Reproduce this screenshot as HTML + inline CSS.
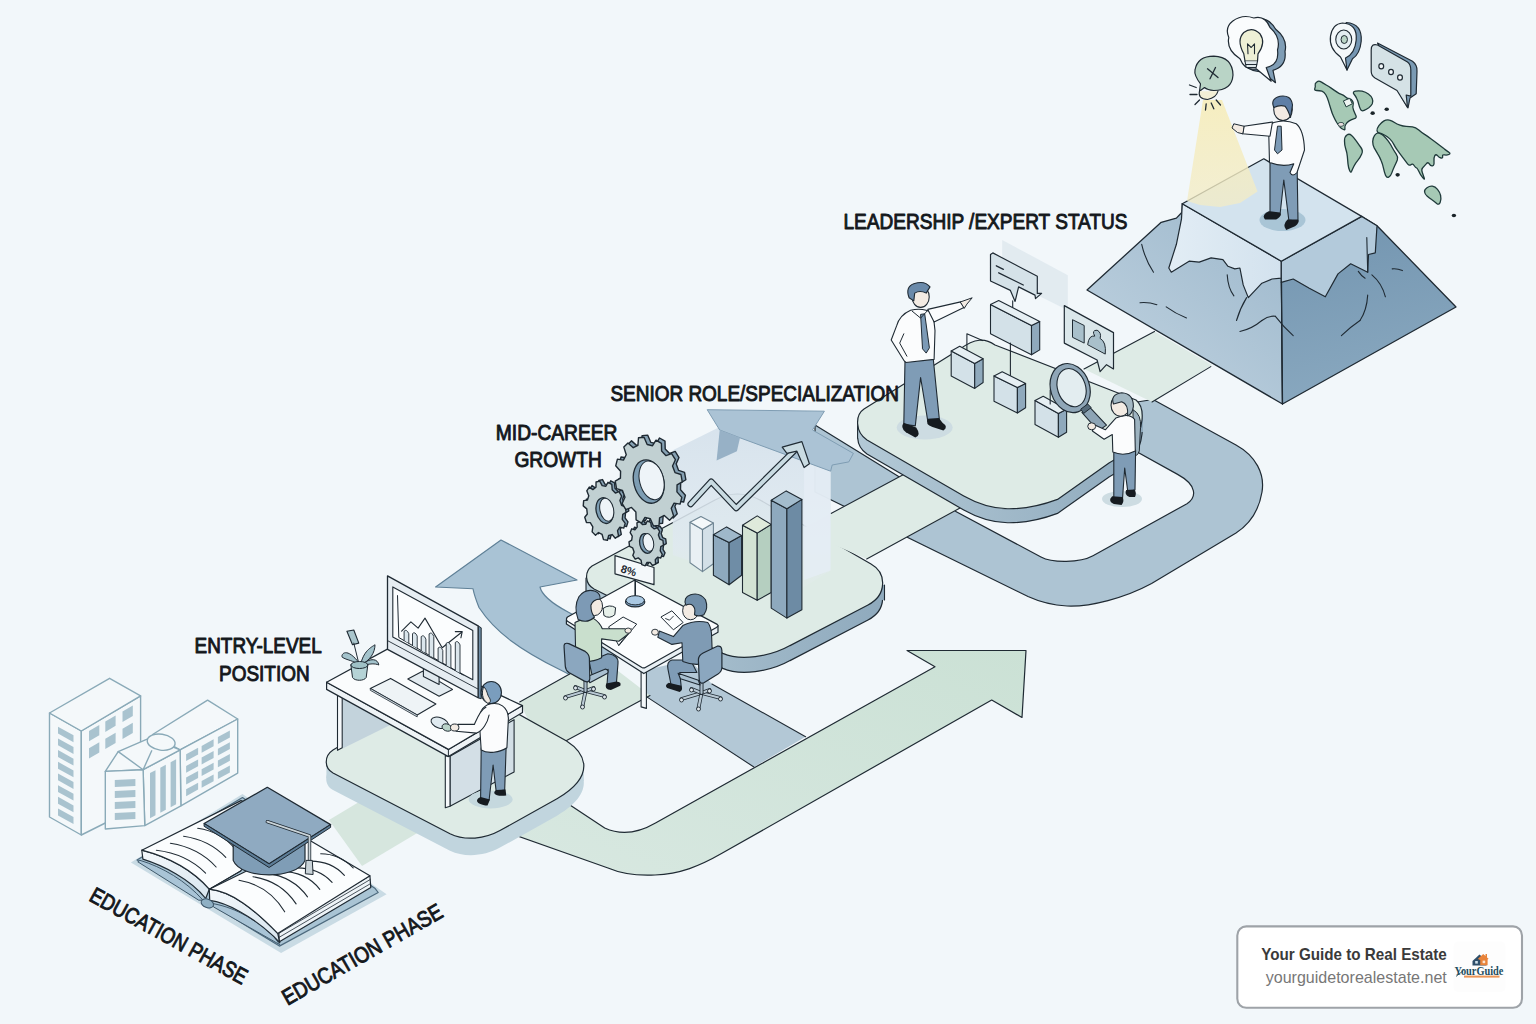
<!DOCTYPE html>
<html><head><meta charset="utf-8"><title>Career Path</title>
<style>
html,body{margin:0;padding:0;background:#f2f7fa;}
body{width:1536px;height:1024px;overflow:hidden;font-family:"Liberation Sans",sans-serif;}
svg{display:block;position:absolute;left:0;top:0;}
text{font-family:"Liberation Sans",sans-serif;}
</style></head><body>
<svg width="1536" height="1024" viewBox="0 0 1536 1024">
<defs>

<linearGradient id="gArrow" x1="0" y1="1" x2="1" y2="0">
  <stop offset="0" stop-color="#d8e8e1"/><stop offset="1" stop-color="#cbe1d5"/>
</linearGradient>
<linearGradient id="gMtL" x1="1" y1="0" x2="0.2" y2="1">
  <stop offset="0" stop-color="#9cb7cb"/><stop offset="1" stop-color="#bfd2e0"/>
</linearGradient>
<linearGradient id="gMtR" x1="0.3" y1="0" x2="0.5" y2="1">
  <stop offset="0" stop-color="#7395b0"/><stop offset="1" stop-color="#8aa9c0"/>
</linearGradient>
<linearGradient id="gSnowL" x1="0" y1="0" x2="1" y2="0">
  <stop offset="0" stop-color="#e2edf5"/><stop offset="1" stop-color="#d3e2ee"/>
</linearGradient>
<linearGradient id="gBeam" x1="0" y1="0" x2="0" y2="1">
  <stop offset="0" stop-color="#f6edbd" stop-opacity="0.95"/><stop offset="1" stop-color="#f3ecc6" stop-opacity="0.75"/>
</linearGradient>
<linearGradient id="gPage" x1="0" y1="0" x2="1" y2="1">
  <stop offset="0" stop-color="#f4f8fb"/><stop offset="1" stop-color="#d9e6ef"/>
</linearGradient>
<linearGradient id="gSlab" x1="0" y1="0" x2="0" y2="1">
  <stop offset="0" stop-color="#d6e2ec" stop-opacity="0.95"/><stop offset="0.7" stop-color="#dfe9f0" stop-opacity="0.85"/><stop offset="1" stop-color="#e3ece9" stop-opacity="0.3"/>
</linearGradient>
<linearGradient id="gSide" x1="0" y1="0" x2="1" y2="0">
  <stop offset="0" stop-color="#b3c9d6"/><stop offset="1" stop-color="#8faabd"/>
</linearGradient>

</defs>
<rect width="1536" height="1024" fill="#f2f7fa"/>
<path d="M1153,399.5 L1236,445 C1256,456 1265,474 1262,492 C1259,510 1250,524 1236,533 L1151.6,583.5 C1125,598 1090,607 1067,606 C1050,605 1040,602 1028,596.5 L815,492 L815,425 L953,510 L1041,557 C1052,563 1080,563 1093,555.8 L1187,503.7 C1197,497 1197,485 1177.6,474.4 L1130,448 L1137,402 Z" fill="#adc4d3" stroke="#1f2a33" stroke-width="1.2" stroke-linejoin="round" stroke-linecap="round" />
<path d="M501,540 L577,580 L540,587 C542,596 553,604 568,612 L620,640 L600,690 L560.6,670 C520,650 495,632 479,607.5 C476,600 474,594 473,588.75 L435.6,587 Z" fill="#a9c3d5" stroke="#5f8097" stroke-width="1.2" stroke-linejoin="round" stroke-linecap="round" />
<polygon points="646.4,696.6 753.9,767.0 805.6,736.7 711.9,684.0 690.0,660.0 645.0,670.0" fill="#b3c8d6" stroke="none" stroke-linejoin="round" />
<path d="M646.4,696.6 L753.9,767 M711.9,684 L805.6,736.7" fill="none" stroke="#1f2a33" stroke-width="1.1" stroke-linejoin="round" stroke-linecap="round" />
<polygon points="329.0,820.0 364.0,799.0 424.0,829.0 362.0,866.0" fill="#d6e6de" stroke="none" stroke-linejoin="round" />
<polygon points="519.7,701.9 600.0,657.0 650.0,695.6 566.6,740.5 540.0,745.0" fill="#d6e6de" stroke="none" stroke-linejoin="round" />
<path d="M519.7,701.9 L600,657 M566.6,740.5 L650,695.6" fill="none" stroke="#1f2a33" stroke-width="1.1" stroke-linejoin="round" stroke-linecap="round" />
<path d="M559,797.8 L604.7,828 C622,836 640,832 655.5,823 L935,666.7 L907,650.5 L1026,650.5 L1022,717.5 L991.7,700 L721.5,853.6 C700,866 680,874 655,875 C635,876 622,874 608,868 L503,830.8 Z" fill="url(#gArrow)" stroke="#1f2a33" stroke-width="1.2" stroke-linejoin="round" stroke-linecap="round" />
<polygon points="1084.0,369.0 1154.5,331.4 1212.0,365.0 1152.0,402.0" fill="#deebe6" stroke="none" stroke-linejoin="round" />
<path d="M1084,369 L1154.5,331.4 M1152,402 L1210.8,366.6" fill="none" stroke="#1f2a33" stroke-width="1.1" stroke-linejoin="round" stroke-linecap="round" />
<path d="M333,750 C324,756 324,768 333,773 L450,833.75 C465,841 485,839 500,830.6 L557,798.75 C572,790 585,778 583.75,764 C582.5,754 576,747 566.6,741 L470,687 C460,681 450,681 440,687 Z" fill="#c1d5de" transform="translate(0,17)"/>
<path d="M326.4,761 L326.4,778 L583.8,781 L583.8,764 Z" fill="#c1d5de" stroke="none" stroke-linejoin="round" stroke-linecap="round" />
<path d="M333,750 C324,756 324,768 333,773 L450,833.75 C465,841 485,839 500,830.6 L557,798.75 C572,790 585,778 583.75,764 C582.5,754 576,747 566.6,741 L470,687 C460,681 450,681 440,687 Z" fill="#deebe6" stroke="#1f2a33" stroke-width="1.2" stroke-linejoin="round" stroke-linecap="round" />
<path d="M592,566 C584,572 585,584 594,589 L722.8,653.4 C740,661 770,657 790,645.6 L868,605 C887,595 887,573 871,564 L760,500 C745,492 730,492 715,500 Z" fill="url(#gSide)" stroke="#1f2a33" stroke-width="1.2" transform="translate(0,15)"/>
<path d="M586,578 L586,593 L884.5,600 L884.5,585 Z" fill="url(#gSide)" stroke="none" stroke-linejoin="round" stroke-linecap="round" />
<path d="M586,578 L586,593 M884.5,585 L884.5,600" fill="none" stroke="#1f2a33" stroke-width="1.1" stroke-linejoin="round" stroke-linecap="round" />
<path d="M592,566 C584,572 585,584 594,589 L722.8,653.4 C740,661 770,657 790,645.6 L868,605 C887,595 887,573 871,564 L760,500 C745,492 730,492 715,500 Z" fill="#deebe6" stroke="#1f2a33" stroke-width="1.2" stroke-linejoin="round" stroke-linecap="round" />
<polygon points="800.0,530.0 940.0,455.0 985.0,495.0 866.7,559.0" fill="#deebe6" stroke="none" stroke-linejoin="round" />
<path d="M831,513.5 L905,473.7 M866.7,559 L960,508" fill="none" stroke="#1f2a33" stroke-width="1.1" stroke-linejoin="round" stroke-linecap="round" />
<polygon points="672.8,450.3 719.7,426.9 830.6,470.6 830.6,570.6 790.0,595.6 672.8,555.0" fill="url(#gSlab)" stroke="none" stroke-linejoin="round" />
<polygon points="804.1,459.7 830.6,470.6 830.6,570.6 804.1,580.0" fill="#e6eef5" stroke="none" stroke-linejoin="round" opacity="0.75"/>
<polygon points="707.2,409.7 824.4,411.2 812.5,430.0 853.4,453.4 848.8,461.9 832.2,465.0 830.6,471.2 740.0,437.8 719.7,430.0" fill="#abc3d5" stroke="#7f9db3" stroke-width="1" stroke-linejoin="round" />
<polygon points="719.7,430.0 740.0,437.8 736.9,451.2 716.6,460.6" fill="#97b1c6" stroke="none" stroke-linejoin="round" />
<path d="M864,409 C855,415 855,432 867,440 L963.75,496 C978,504 992,508.5 1007.5,508.75 C1024,509 1040,506 1057.5,499.4 L1109,463 C1128,453 1140,440 1142,420 C1143,410 1141,404 1136,400 L995,345 C985,338 975,338 960,349 Z" fill="url(#gSide)" stroke="#1f2a33" stroke-width="1.2" transform="translate(0,14)"/>
<path d="M857.5,424 L857.5,438 L1143,432 L1143,418 Z" fill="url(#gSide)" stroke="none" stroke-linejoin="round" stroke-linecap="round" />
<path d="M857.6,424 L857.6,438" fill="none" stroke="#1f2a33" stroke-width="1.1" stroke-linejoin="round" stroke-linecap="round" />
<path d="M864,409 C855,415 855,432 867,440 L963.75,496 C978,504 992,508.5 1007.5,508.75 C1024,509 1040,506 1057.5,499.4 L1109,463 C1128,453 1140,440 1142,420 C1143,410 1141,404 1136,400 L995,345 C985,338 975,338 960,349 Z" fill="#deebe6" stroke="#1f2a33" stroke-width="1.2" stroke-linejoin="round" stroke-linecap="round" />
<polygon points="1087.0,290.0 1161.2,222.3 1176.4,218.1 1182.0,212.2 1182.3,203.7 1281.3,261.2 1282.5,404.0" fill="url(#gMtL)" stroke="#1f2a33" stroke-width="1.3" stroke-linejoin="round" />
<polygon points="1282.5,404.0 1456.0,307.0 1377.0,225.7 1361.7,216.4 1281.3,261.2" fill="url(#gMtR)" stroke="#1f2a33" stroke-width="1.3" stroke-linejoin="round" />
<polygon points="1182.3,203.7 1181.5,218.9 1176.4,244.3 1168.8,268.0 1171.3,272.2 1189.1,261.2 1199.2,262.1 1211.1,257.9 1222.9,259.6 1228.0,266.3 1234.8,268.9 1239.9,268.0 1243.2,284.9 1248.3,297.6 1261.9,283.2 1272.0,279.0 1281.3,278.2 1281.3,261.2" fill="url(#gSnowL)" stroke="#1f2a33" stroke-width="1.2" stroke-linejoin="round" />
<polygon points="1281.3,261.2 1281.3,282.4 1293.2,279.0 1309.3,288.3 1325.3,296.8 1338.0,273.9 1350.7,263.8 1367.7,272.2 1368.5,254.5 1375.3,252.8 1377.0,225.7 1361.7,216.4" fill="#b3cadb" stroke="#1f2a33" stroke-width="1.2" stroke-linejoin="round" />
<polygon points="1182.3,203.7 1263.8,158.8 1361.7,216.4 1281.3,261.2" fill="#d3e3ee" stroke="#1f2a33" stroke-width="1.3" stroke-linejoin="round" />
<polygon points="1203.0,100.0 1222.0,100.0 1257.5,191.6 1240.0,203.0 1220.0,207.0 1200.0,205.0 1187.0,201.0" fill="url(#gBeam)" stroke="none" stroke-linejoin="round" />
<g><polygon points="49.5,713.0 81.3,731.0 81.3,835.0 49.5,817.0" fill="#f4f8fa" stroke="#8aaab8" stroke-width="1.4" stroke-linejoin="round" /><polygon points="81.3,731.0 140.6,695.8 140.6,790.3 105.3,823.0 81.3,835.0" fill="#f4f8fa" stroke="#8aaab8" stroke-width="1.4" stroke-linejoin="round" /><polygon points="49.5,713.0 109.6,678.3 140.6,695.8 81.3,731.0" fill="#f4f8fa" stroke="#8aaab8" stroke-width="1.4" stroke-linejoin="round" /><polygon points="58.0,726.7 73.5,735.3 73.5,742.2 58.0,733.6" fill="#a9c3cf" stroke="none" stroke-linejoin="round" /><polygon points="58.0,738.4 73.5,747.0 73.5,753.9 58.0,745.3" fill="#a9c3cf" stroke="none" stroke-linejoin="round" /><polygon points="58.0,750.1 73.5,758.7 73.5,765.6 58.0,757.0" fill="#a9c3cf" stroke="none" stroke-linejoin="round" /><polygon points="58.0,761.8 73.5,770.4 73.5,777.3 58.0,768.7" fill="#a9c3cf" stroke="none" stroke-linejoin="round" /><polygon points="58.0,773.5 73.5,782.1 73.5,788.9 58.0,780.3" fill="#a9c3cf" stroke="none" stroke-linejoin="round" /><polygon points="58.0,785.2 73.5,793.8 73.5,800.6 58.0,792.0" fill="#a9c3cf" stroke="none" stroke-linejoin="round" /><polygon points="58.0,796.8 73.5,805.4 73.5,812.3 58.0,803.7" fill="#a9c3cf" stroke="none" stroke-linejoin="round" /><polygon points="58.0,808.5 73.5,817.1 73.5,824.0 58.0,815.4" fill="#a9c3cf" stroke="none" stroke-linejoin="round" /><polygon points="89.0,731.0 99.3,725.0 99.3,735.3 89.0,741.3" fill="#a9c3cf" stroke="none" stroke-linejoin="round" /><polygon points="89.0,748.2 99.3,742.2 99.3,752.5 89.0,758.5" fill="#a9c3cf" stroke="none" stroke-linejoin="round" /><polygon points="105.3,721.5 115.6,715.5 115.6,725.8 105.3,731.9" fill="#a9c3cf" stroke="none" stroke-linejoin="round" /><polygon points="105.3,738.7 115.6,732.7 115.6,743.0 105.3,749.0" fill="#a9c3cf" stroke="none" stroke-linejoin="round" /><polygon points="122.5,711.6 132.8,705.6 132.8,715.9 122.5,721.9" fill="#a9c3cf" stroke="none" stroke-linejoin="round" /><polygon points="122.5,728.8 132.8,722.8 132.8,733.1 122.5,739.1" fill="#a9c3cf" stroke="none" stroke-linejoin="round" /><polygon points="152.6,734.5 207.6,700.1 237.7,719.0 180.1,749.9" fill="#f4f8fa" stroke="#8aaab8" stroke-width="1.4" stroke-linejoin="round" /><polygon points="180.1,749.9 237.7,719.0 237.7,773.1 180.9,805.8" fill="#f4f8fa" stroke="#8aaab8" stroke-width="1.4" stroke-linejoin="round" /><polygon points="186.1,754.2 198.1,747.7 198.1,754.6 186.1,761.1" fill="#a9c3cf" stroke="none" stroke-linejoin="round" /><polygon points="186.1,765.9 198.1,759.4 198.1,766.3 186.1,772.8" fill="#a9c3cf" stroke="none" stroke-linejoin="round" /><polygon points="186.1,777.6 198.1,771.1 198.1,777.9 186.1,784.5" fill="#a9c3cf" stroke="none" stroke-linejoin="round" /><polygon points="186.1,789.3 198.1,782.8 198.1,789.6 186.1,796.2" fill="#a9c3cf" stroke="none" stroke-linejoin="round" /><polygon points="201.6,745.9 213.6,739.3 213.6,746.2 201.6,752.7" fill="#a9c3cf" stroke="none" stroke-linejoin="round" /><polygon points="201.6,757.6 213.6,751.0 213.6,757.9 201.6,764.4" fill="#a9c3cf" stroke="none" stroke-linejoin="round" /><polygon points="201.6,769.2 213.6,762.7 213.6,769.6 201.6,776.1" fill="#a9c3cf" stroke="none" stroke-linejoin="round" /><polygon points="201.6,780.9 213.6,774.4 213.6,781.3 201.6,787.8" fill="#a9c3cf" stroke="none" stroke-linejoin="round" /><polygon points="217.9,737.1 229.9,730.5 229.9,737.4 217.9,743.9" fill="#a9c3cf" stroke="none" stroke-linejoin="round" /><polygon points="217.9,748.7 229.9,742.2 229.9,749.1 217.9,755.6" fill="#a9c3cf" stroke="none" stroke-linejoin="round" /><polygon points="217.9,760.4 229.9,753.9 229.9,760.8 217.9,767.3" fill="#a9c3cf" stroke="none" stroke-linejoin="round" /><polygon points="217.9,772.1 229.9,765.6 229.9,772.5 217.9,779.0" fill="#a9c3cf" stroke="none" stroke-linejoin="round" /><polygon points="143.1,769.7 180.1,749.9 180.9,805.8 144.8,825.6" fill="#f4f8fa" stroke="#8aaab8" stroke-width="1.4" stroke-linejoin="round" /><polygon points="150.0,773.1 155.5,770.2 155.5,815.2 150.0,818.2" fill="#a9c3cf" stroke="none" stroke-linejoin="round" /><polygon points="160.3,767.7 165.8,764.7 165.8,809.8 160.3,812.7" fill="#a9c3cf" stroke="none" stroke-linejoin="round" /><polygon points="170.6,762.2 176.1,759.3 176.1,804.3 170.6,807.2" fill="#a9c3cf" stroke="none" stroke-linejoin="round" /><polygon points="105.3,771.4 118.2,751.6 150.0,737.9 180.1,749.9 143.1,769.7" fill="#f4f8fa" stroke="#8aaab8" stroke-width="1.4" stroke-linejoin="round" /><path d="M118.2,751.6 L143.1,769.7 L151.7,750.8" fill="none" stroke="#8aaab8" stroke-width="1.4" stroke-linejoin="round" stroke-linecap="round" /><ellipse cx="161.17566173942936" cy="742.1897559298728" rx="14" ry="8" fill="#f4f8fa" stroke="#8aaab8" stroke-width="1.4" transform="rotate(8 161.17566173942936 742.1897559298728)" /><polygon points="105.3,771.4 143.1,769.7 144.8,825.6 105.3,829.0" fill="#f4f8fa" stroke="#8aaab8" stroke-width="1.4" stroke-linejoin="round" /><polygon points="114.8,780.0 135.4,779.1 135.4,786.0 114.8,786.9" fill="#a9c3cf" stroke="none" stroke-linejoin="round" /><polygon points="114.8,791.0 135.4,790.1 135.4,797.0 114.8,797.9" fill="#a9c3cf" stroke="none" stroke-linejoin="round" /><polygon points="114.8,802.0 135.4,801.1 135.4,808.0 114.8,808.9" fill="#a9c3cf" stroke="none" stroke-linejoin="round" /><polygon points="114.8,813.0 135.4,812.1 135.4,819.0 114.8,819.9" fill="#a9c3cf" stroke="none" stroke-linejoin="round" /></g>
<g><polygon points="130.9,862.6 281.1,953.1 386.6,894.2 242.5,794.1" fill="#c9dbe4" stroke="none" stroke-linejoin="round" /><path d="M137.0,860.0 L 202.1,899.5 Q 205.6,906.5 212.6,905.1 L 279.4,946.1 L 378.2,892.5 L 375.2,888.6 L 242.5,797.6 Z" fill="#a9c4d4" stroke="#4d6a7e" stroke-width="1.2" stroke-linejoin="round" stroke-linecap="round" /><path d="M140.2,860.4 C 162.2,866.9 185.9,880.8 203.0,900.2 L 198.7,900.2 L 138.1,862.0 Z" fill="#a9c4d6" stroke="#3f596b" stroke-width="1" stroke-linejoin="round" stroke-linecap="round" /><path d="M211.6,903.4 C 232.0,906.6 253.5,917.3 273.9,936.7 L 279.8,944.7 L 213.8,907.1 Z" fill="#a9c4d6" stroke="#3f596b" stroke-width="1" stroke-linejoin="round" stroke-linecap="round" /><path d="M141.8,850.2 L 142.9,859.1 C 162.2,865.2 190.2,878.7 205.7,898.5 L 209.3,889.2 C 194.4,872.2 173.0,858.3 141.8,850.2 Z" fill="url(#gPage)" stroke="#1f2a33" stroke-width="1.2" stroke-linejoin="round" stroke-linecap="round" /><path d="M141.8,850.2 C 173.0,858.3 194.4,872.2 209.3,889.2 L 240.6,871.1 L 280.4,818.5 L 241.0,800.6 Z" fill="#fbfdfe" stroke="#1f2a33" stroke-width="1.2" stroke-linejoin="round" stroke-linecap="round" /><path d="M209.3,889.2 L 209.7,900.4 C 226.7,902.3 253.5,917.3 273.4,936.1 L 279.8,942.6 L 277.7,933.4 C 253.5,908.7 232.0,891.6 209.3,889.2 Z" fill="url(#gPage)" stroke="#1f2a33" stroke-width="1.2" stroke-linejoin="round" stroke-linecap="round" /><path d="M279.4,941.7 L 370.8,887.6 L 369.9,875.8 L 278.5,929.4 Z" fill="#eef4f8" stroke="#1f2a33" stroke-width="1.2" stroke-linejoin="round" stroke-linecap="round" /><path d="M279.0,933.3 L 370.1,879.6 M 279.2,937.3 L 370.4,883.7" fill="none" stroke="#1f2a33" stroke-width="0.8" stroke-linejoin="round" stroke-linecap="round" /><path d="M209.3,889.2 C 232.0,891.6 253.5,908.7 277.7,933.4 L369.9,875.8 L 305.7,838.0 L 263.6,862.6 Z" fill="#fbfdfe" stroke="#1f2a33" stroke-width="1.2" stroke-linejoin="round" stroke-linecap="round" /><path d="M209.3,889.2 L 240.6,871.1" fill="none" stroke="#1f2a33" stroke-width="1" stroke-linejoin="round" stroke-linecap="round" /><ellipse cx="207.33619763694952" cy="903.3727175080559" rx="6.4" ry="4.2" fill="#8fb0c4" stroke="#3a5366" stroke-width="1" transform="rotate(20 207.33619763694952 903.3727175080559)" /><path d="M170.4,843.3 Q 198.5,847.7 216.1,867.0" fill="none" stroke="#1f2a33" stroke-width="1.1" stroke-linejoin="round" stroke-linecap="round" /><path d="M183.6,836.2 Q 209.1,839.8 225.8,857.3" fill="none" stroke="#1f2a33" stroke-width="1.1" stroke-linejoin="round" stroke-linecap="round" /><path d="M197.7,828.3 Q 221.4,831.8 235.4,849.4" fill="none" stroke="#1f2a33" stroke-width="1.1" stroke-linejoin="round" stroke-linecap="round" /><path d="M156.4,850.3 Q 186.2,853.8 205.6,873.1" fill="none" stroke="#1f2a33" stroke-width="1.1" stroke-linejoin="round" stroke-linecap="round" /><path d="M239.0,880.2 Q 268.8,885.4 284.7,911.8" fill="none" stroke="#1f2a33" stroke-width="1.1" stroke-linejoin="round" stroke-linecap="round" /><path d="M253.0,876.7 Q 281.1,881.1 296.1,903.9" fill="none" stroke="#1f2a33" stroke-width="1.1" stroke-linejoin="round" stroke-linecap="round" /><path d="M266.2,873.1 Q 293.4,876.7 307.5,896.9" fill="none" stroke="#1f2a33" stroke-width="1.1" stroke-linejoin="round" stroke-linecap="round" /><path d="M280.3,871.4 Q 305.7,871.4 319.8,889.3" fill="none" stroke="#1f2a33" stroke-width="1.1" stroke-linejoin="round" stroke-linecap="round" /><path d="M294.3,867.9 Q 318.0,867.0 332.1,882.3" fill="none" stroke="#1f2a33" stroke-width="1.1" stroke-linejoin="round" stroke-linecap="round" /><path d="M307.5,861.2 Q 330.4,860.0 344.4,875.3" fill="none" stroke="#1f2a33" stroke-width="1.1" stroke-linejoin="round" stroke-linecap="round" /><path d="M320.7,853.8 Q 339.1,853.8 353.2,867.9" fill="none" stroke="#1f2a33" stroke-width="1.1" stroke-linejoin="round" stroke-linecap="round" /></g>
<g><path d="M233.2,842.8 L233.2,860.4 C241.0,879.8 297.2,879.8 305.0,860.4 L305.0,842.8 Z" fill="#7f9db6" stroke="#1f2a33" stroke-width="1.2" stroke-linejoin="round" stroke-linecap="round" /><polygon points="204.1,823.5 267.3,787.3 330.6,824.6 269.1,863.9" fill="#8faac1" stroke="#1f2a33" stroke-width="1.3" stroke-linejoin="round" /><polygon points="204.1,823.5 269.1,863.9 330.6,824.6 330.6,827.4 269.1,867.5 204.1,826.3" fill="#5d7d97" stroke="#1f2a33" stroke-width="1" stroke-linejoin="round" /><path d="M267.3,821.7 L309.5,835.8 L309.5,867.5" fill="none" stroke="#1f2a33" stroke-width="3.4" stroke-linejoin="round" stroke-linecap="round" /><path d="M267.3,821.7 L309.5,835.8 L309.5,867.5" fill="none" stroke="#c9d3d8" stroke-width="1.8" stroke-linejoin="round" stroke-linecap="round" /><polygon points="306.0,860.4 312.3,860.4 313.1,874.5 305.3,873.8" fill="#c9d3d8" stroke="#1f2a33" stroke-width="1" stroke-linejoin="round" /></g>
<g><polygon points="342.2,696.2 391.2,724.4 342.2,748.8" fill="#c3d3dc" stroke="none" stroke-linejoin="round" /><polygon points="450.0,756.2 514.1,719.7 514.1,771.9 450.0,806.2" fill="#d3dfe6" stroke="#1f2a33" stroke-width="1.1" stroke-linejoin="round" /><polygon points="337.5,693.1 342.2,695.6 342.2,747.8 337.5,750.3" fill="#f6f9fb" stroke="#1f2a33" stroke-width="1.1" stroke-linejoin="round" /><polygon points="445.3,755.6 450.0,756.2 450.0,806.2 445.3,807.8" fill="#f6f9fb" stroke="#1f2a33" stroke-width="1.1" stroke-linejoin="round" /><polygon points="326.6,682.2 448.4,749.4 522.5,705.6 522.5,712.5 448.4,756.6 326.6,689.4" fill="#eef3f6" stroke="#1f2a33" stroke-width="1.2" stroke-linejoin="round" /><polygon points="326.6,682.2 393.8,645.6 522.5,705.6 448.4,749.4" fill="#fafcfd" stroke="#1f2a33" stroke-width="1.2" stroke-linejoin="round" /><path d="M448.4,749.4 L448.4,756.6" fill="none" stroke="#1f2a33" stroke-width="1" stroke-linejoin="round" stroke-linecap="round" /><path d="M359.4,663.4 C346.9,646.2 340.6,654.1 342.2,657.2 C346.9,660.3 353.1,660.3 359.4,665.0 Z" fill="#a3c3cc" stroke="#1f2a33" stroke-width="1" stroke-linejoin="round" stroke-linecap="round" /><path d="M360.9,663.4 C364.1,649.4 373.4,646.2 375.0,644.7 C375.0,652.5 370.3,660.3 360.9,665.0 Z" fill="#a3c3cc" stroke="#1f2a33" stroke-width="1" stroke-linejoin="round" stroke-linecap="round" /><path d="M362.5,664.4 C370.3,657.2 378.1,658.8 378.8,665.0 C375.0,663.4 370.3,663.4 362.5,665.6 Z" fill="#a3c3cc" stroke="#1f2a33" stroke-width="1" stroke-linejoin="round" stroke-linecap="round" /><polygon points="346.9,631.2 353.8,630.0 358.8,643.1 352.5,644.7" fill="#a9c5cc" stroke="#1f2a33" stroke-width="1.1" stroke-linejoin="round" /><path d="M353.8,643.1 L358.8,663.4" fill="none" stroke="#1f2a33" stroke-width="1" stroke-linejoin="round" stroke-linecap="round" /><path d="M350.9,665.0 L352.5,677.5 C354.7,681.2 364.1,681.2 366.2,677.5 L367.8,665.0 Z" fill="#b5d3d6" stroke="#1f2a33" stroke-width="1" stroke-linejoin="round" stroke-linecap="round" /><ellipse cx="359.375" cy="665.0" rx="8.5" ry="3.5" fill="#9fc1c6" stroke="#1f2a33" stroke-width="1"  /><polygon points="370.3,688.4 390.6,678.4 435.9,704.1 417.2,715.0" fill="#eef3f6" stroke="#1f2a33" stroke-width="1.1" stroke-linejoin="round" /><polygon points="370.3,688.4 417.2,715.0 417.2,716.9 370.3,690.3" fill="#d5e0e6" stroke="#1f2a33" stroke-width="0.8" stroke-linejoin="round" /><polygon points="407.8,679.1 422.5,671.2 452.5,689.4 439.1,696.2" fill="#e3ebf0" stroke="#1f2a33" stroke-width="1.1" stroke-linejoin="round" /><polygon points="423.4,663.4 439.1,671.2 439.1,684.4 423.4,676.6" fill="#dfe8ee" stroke="#1f2a33" stroke-width="1.1" stroke-linejoin="round" /><polygon points="478.1,625.9 481.2,627.8 481.2,698.8 478.1,697.8" fill="#6f8da6" stroke="#1f2a33" stroke-width="1" stroke-linejoin="round" /><polygon points="387.5,575.9 478.1,625.9 478.1,697.8 387.5,649.4" fill="#e6edf2" stroke="#1f2a33" stroke-width="1.3" stroke-linejoin="round" /><polygon points="392.8,586.9 472.8,630.6 472.8,679.7 392.8,636.9" fill="#fbfdfe" stroke="#1f2a33" stroke-width="1.1" stroke-linejoin="round" /><path d="M387.5,640.6 L478.1,689.1" fill="none" stroke="#1f2a33" stroke-width="0.9" stroke-linejoin="round" stroke-linecap="round" /><path d="M397.5,595.6 L398.8,637.5 L463.1,675.0" fill="none" stroke="#1f2a33" stroke-width="1" stroke-linejoin="round" stroke-linecap="round" /><path d="M401.6,631.2 L410.9,621.9 L418.1,628.1 L425.0,618.1 L442.2,647.8 L461.6,632.2" fill="none" stroke="#1f2a33" stroke-width="1.1" stroke-linejoin="round" stroke-linecap="round" /><path d="M455.3,631.6 L462.2,631.6 L460.9,637.8" fill="none" stroke="#1f2a33" stroke-width="1.1" stroke-linejoin="round" stroke-linecap="round" /><path d="M404.1,640.6 L404.1,631.2 Q406.6,628.7 408.8,633.7 L408.8,643.1" fill="#dbe6ec" stroke="#1f2a33" stroke-width="0.9" stroke-linejoin="round" stroke-linecap="round" /><path d="M412.5,645.5 L412.5,633.6 Q415.0,631.1 417.2,636.1 L417.2,648.0" fill="#dbe6ec" stroke="#1f2a33" stroke-width="0.9" stroke-linejoin="round" stroke-linecap="round" /><path d="M421.2,650.6 L421.2,636.6 Q423.8,634.1 425.9,639.1 L425.9,653.1" fill="#dbe6ec" stroke="#1f2a33" stroke-width="0.9" stroke-linejoin="round" stroke-linecap="round" /><path d="M429.1,655.2 L429.1,633.9 Q431.6,631.4 433.8,636.4 L433.8,657.7" fill="#dbe6ec" stroke="#1f2a33" stroke-width="0.9" stroke-linejoin="round" stroke-linecap="round" /><path d="M438.1,660.5 L438.1,648.0 Q440.6,645.5 442.8,650.5 L442.8,663.0" fill="#dbe6ec" stroke="#1f2a33" stroke-width="0.9" stroke-linejoin="round" stroke-linecap="round" /><path d="M446.2,665.2 L446.2,643.3 Q448.8,640.8 450.9,645.8 L450.9,667.7" fill="#dbe6ec" stroke="#1f2a33" stroke-width="0.9" stroke-linejoin="round" stroke-linecap="round" /><path d="M455.3,670.5 L455.3,642.4 Q457.8,639.9 460.0,644.9 L460.0,673.0" fill="#dbe6ec" stroke="#1f2a33" stroke-width="0.9" stroke-linejoin="round" stroke-linecap="round" /><ellipse cx="439.6875" cy="722.8125" rx="9" ry="5.2" fill="#dfeaf0" stroke="#1f2a33" stroke-width="1" transform="rotate(20 439.6875 722.8125)" /><ellipse cx="446.875" cy="727.5" rx="5" ry="3.5" fill="#b9d3c9" stroke="#1f2a33" stroke-width="0.9" transform="rotate(20 446.875 727.5)" /></g>
<g><ellipse cx="490.625" cy="799.375" rx="22" ry="9" fill="#c5d8de" stroke="none"  /><path d="M481.2,747.8 L480.6,799.4 L489.1,800.0 L493.1,765.0 L496.2,791.6 L504.7,790.0 L506.2,744.7 Z" fill="#7f9cb6" stroke="#1f2a33" stroke-width="1.1" stroke-linejoin="round" stroke-linecap="round" /><path d="M480.6,796.9 C475.0,799.4 475.0,804.1 487.5,805.6 L490.0,799.4 Z" fill="#161b20" stroke="none" stroke-linejoin="round" stroke-linecap="round" /><path d="M496.2,790.0 C492.2,792.5 493.8,796.9 506.2,795.6 L505.6,789.4 Z" fill="#161b20" stroke="none" stroke-linejoin="round" stroke-linecap="round" /><path d="M487.5,704.7 C500.0,700.9 507.8,707.2 508.4,718.1 L506.9,747.8 C500.0,752.5 487.5,754.1 481.2,750.0 L479.7,727.5 C478.1,718.1 479.7,708.8 487.5,704.7 Z" fill="#fbfcfd" stroke="#1f2a33" stroke-width="1.1" stroke-linejoin="round" stroke-linecap="round" /><path d="M485.9,707.2 C479.7,710.3 476.6,719.7 474.4,724.4 L457.8,724.4 L456.2,731.2 L476.6,733.1 C482.8,730.6 487.5,722.8 489.1,715.0" fill="#fbfcfd" stroke="#1f2a33" stroke-width="1.1" stroke-linejoin="round" stroke-linecap="round" /><ellipse cx="454.6875" cy="727.5" rx="4.2" ry="3.5" fill="#f3ebe3" stroke="#1f2a33" stroke-width="1"  /><ellipse cx="491.25" cy="692.5" rx="10.2" ry="11" fill="#7a9dbd" stroke="#1f2a33" stroke-width="1.1"  /><path d="M483.8,686.9 C481.2,691.6 481.9,699.4 487.5,703.1 C490.6,703.1 491.2,700.9 489.4,697.8 C486.9,694.7 487.5,690.0 483.8,686.9 Z" fill="#f3ebe3" stroke="#1f2a33" stroke-width="1" stroke-linejoin="round" stroke-linecap="round" /></g>
<g><path d="M585.5,691.0 L565.5,697.0" fill="none" stroke="#1f2a33" stroke-width="3.8" stroke-linejoin="round" stroke-linecap="round" /><path d="M585.5,691.0 L565.5,697.0" fill="none" stroke="#b9c9d4" stroke-width="2.2" stroke-linejoin="round" stroke-linecap="round" /><ellipse cx="565.5" cy="698" rx="2" ry="2" fill="#dfe7ec" stroke="#1f2a33" stroke-width="0.9"  /><path d="M585.5,691.0 L582.5,706.0" fill="none" stroke="#1f2a33" stroke-width="3.8" stroke-linejoin="round" stroke-linecap="round" /><path d="M585.5,691.0 L582.5,706.0" fill="none" stroke="#b9c9d4" stroke-width="2.2" stroke-linejoin="round" stroke-linecap="round" /><ellipse cx="582.5" cy="707" rx="2" ry="2" fill="#dfe7ec" stroke="#1f2a33" stroke-width="0.9"  /><path d="M585.5,691.0 L604.5,696.0" fill="none" stroke="#1f2a33" stroke-width="3.8" stroke-linejoin="round" stroke-linecap="round" /><path d="M585.5,691.0 L604.5,696.0" fill="none" stroke="#b9c9d4" stroke-width="2.2" stroke-linejoin="round" stroke-linecap="round" /><ellipse cx="604.5" cy="697" rx="2" ry="2" fill="#dfe7ec" stroke="#1f2a33" stroke-width="0.9"  /><path d="M585.5,691.0 L593.5,688.0" fill="none" stroke="#1f2a33" stroke-width="3.8" stroke-linejoin="round" stroke-linecap="round" /><path d="M585.5,691.0 L593.5,688.0" fill="none" stroke="#b9c9d4" stroke-width="2.2" stroke-linejoin="round" stroke-linecap="round" /><ellipse cx="593.5" cy="689" rx="2" ry="2" fill="#dfe7ec" stroke="#1f2a33" stroke-width="0.9"  /><path d="M585.5,691.0 L575.5,687.0" fill="none" stroke="#1f2a33" stroke-width="3.8" stroke-linejoin="round" stroke-linecap="round" /><path d="M585.5,691.0 L575.5,687.0" fill="none" stroke="#b9c9d4" stroke-width="2.2" stroke-linejoin="round" stroke-linecap="round" /><ellipse cx="575.5" cy="688" rx="2" ry="2" fill="#dfe7ec" stroke="#1f2a33" stroke-width="0.9"  /><path d="M585.5,677.0 L585.5,691.0" fill="none" stroke="#1f2a33" stroke-width="4" stroke-linejoin="round" stroke-linecap="round" /><path d="M585.5,677.0 L585.5,691.0" fill="none" stroke="#aabdca" stroke-width="2.2" stroke-linejoin="round" stroke-linecap="round" /><path d="M701.5,693.0 L681.5,699.0" fill="none" stroke="#1f2a33" stroke-width="3.8" stroke-linejoin="round" stroke-linecap="round" /><path d="M701.5,693.0 L681.5,699.0" fill="none" stroke="#b9c9d4" stroke-width="2.2" stroke-linejoin="round" stroke-linecap="round" /><ellipse cx="681.5" cy="700" rx="2" ry="2" fill="#dfe7ec" stroke="#1f2a33" stroke-width="0.9"  /><path d="M701.5,693.0 L698.5,708.0" fill="none" stroke="#1f2a33" stroke-width="3.8" stroke-linejoin="round" stroke-linecap="round" /><path d="M701.5,693.0 L698.5,708.0" fill="none" stroke="#b9c9d4" stroke-width="2.2" stroke-linejoin="round" stroke-linecap="round" /><ellipse cx="698.5" cy="709" rx="2" ry="2" fill="#dfe7ec" stroke="#1f2a33" stroke-width="0.9"  /><path d="M701.5,693.0 L720.5,698.0" fill="none" stroke="#1f2a33" stroke-width="3.8" stroke-linejoin="round" stroke-linecap="round" /><path d="M701.5,693.0 L720.5,698.0" fill="none" stroke="#b9c9d4" stroke-width="2.2" stroke-linejoin="round" stroke-linecap="round" /><ellipse cx="720.5" cy="699" rx="2" ry="2" fill="#dfe7ec" stroke="#1f2a33" stroke-width="0.9"  /><path d="M701.5,693.0 L709.5,690.0" fill="none" stroke="#1f2a33" stroke-width="3.8" stroke-linejoin="round" stroke-linecap="round" /><path d="M701.5,693.0 L709.5,690.0" fill="none" stroke="#b9c9d4" stroke-width="2.2" stroke-linejoin="round" stroke-linecap="round" /><ellipse cx="709.5" cy="691" rx="2" ry="2" fill="#dfe7ec" stroke="#1f2a33" stroke-width="0.9"  /><path d="M701.5,693.0 L691.5,689.0" fill="none" stroke="#1f2a33" stroke-width="3.8" stroke-linejoin="round" stroke-linecap="round" /><path d="M701.5,693.0 L691.5,689.0" fill="none" stroke="#b9c9d4" stroke-width="2.2" stroke-linejoin="round" stroke-linecap="round" /><ellipse cx="691.5" cy="690" rx="2" ry="2" fill="#dfe7ec" stroke="#1f2a33" stroke-width="0.9"  /><path d="M701.5,679.0 L701.5,693.0" fill="none" stroke="#1f2a33" stroke-width="4" stroke-linejoin="round" stroke-linecap="round" /><path d="M701.5,679.0 L701.5,693.0" fill="none" stroke="#aabdca" stroke-width="2.2" stroke-linejoin="round" stroke-linecap="round" /><polygon points="641.1,671.7 646.4,671.7 646.4,708.4 641.1,706.9" fill="#f4f8fa" stroke="#1f2a33" stroke-width="1.1" stroke-linejoin="round" /><path d="M566.4,620.2 L 566.4,624.1 L 643.8,673.6 L 718.0,632.2 L 718.0,625.6 Z" fill="#e9f0f4" stroke="#1f2a33" stroke-width="1.2" stroke-linejoin="round" stroke-linecap="round" /><path d="M567.5,617.0 L 634.4,580.3 L 717.2,624.4 Q 719.1,625.9 716.4,627.5 L 645.3,667.5 Q 643.8,668.4 641.9,667.5 L 567.5,621.2 Q 565.3,619.4 567.5,617.0 Z" fill="#fbfdfe" stroke="#1f2a33" stroke-width="1.2" stroke-linejoin="round" stroke-linecap="round" /><path d="M635.2,578.8 L635.2,599.8" fill="none" stroke="#1f2a33" stroke-width="1.6" stroke-linejoin="round" stroke-linecap="round" /><ellipse cx="635.15625" cy="601.875" rx="9.7" ry="5" fill="#7fa3c4" stroke="#1f2a33" stroke-width="1.1"  /><ellipse cx="635.15625" cy="600.3125" rx="9.2" ry="4.6" fill="#a9c8e2" stroke="#1f2a33" stroke-width="1"  /><polygon points="615.0,555.6 654.0,567.5 654.0,584.7 615.0,573.8" fill="#f4f8fa" stroke="#1f2a33" stroke-width="1.2" stroke-linejoin="round" /><text x="620" y="572" font-size="11" font-weight="bold" fill="#1f2a33" transform="rotate(17 620 572)">8%</text><polygon points="608.6,626.9 623.1,617.0 636.7,624.1 618.8,645.6" fill="#fbfdfe" stroke="#1f2a33" stroke-width="1" stroke-linejoin="round" /><path d="M618.8,645.2 L 631.2,628.8" fill="none" stroke="#1f2a33" stroke-width="1" stroke-linejoin="round" stroke-linecap="round" /><path d="M603.1,608.4 L 603.9,615.5 Q 609.4,619.4 614.8,614.7 L 615.6,607.7 Q 609.4,603.8 603.1,608.4 Z" fill="#e6f0ea" stroke="#1f2a33" stroke-width="1" stroke-linejoin="round" stroke-linecap="round" /><polygon points="660.9,617.0 671.9,610.8 683.1,622.5 673.4,629.8" fill="#fbfdfe" stroke="#1f2a33" stroke-width="1" stroke-linejoin="round" /><path d="M665.6,618.6 L 669.5,620.2 L 673.4,616.2" fill="none" stroke="#1f2a33" stroke-width="0.9" stroke-linejoin="round" stroke-linecap="round" /><path d="M589.1,661.6 L 607.8,653.8 Q 618.8,655.3 618.0,663.1 L 616.4,683.4 L 607.0,685.0 L 608.1,669.4 L 592.2,675.6 Z" fill="#7f9cb6" stroke="#1f2a33" stroke-width="1.1" stroke-linejoin="round" stroke-linecap="round" /><path d="M606.2,683.4 Q 603.9,689.7 610.9,690.0 L 620.3,685.8 Q 621.9,681.9 616.4,681.6 Z" fill="#161b20" stroke="none" stroke-linejoin="round" stroke-linecap="round" /><path d="M575.0,622.5 Q 583.6,617.8 593.0,618.1 Q 600.0,622.5 602.3,628.8 L 625.0,628.8 L 628.9,633.4 L 618.8,641.2 L 601.6,638.9 L 601.6,657.7 Q 589.1,663.9 575.8,660.0 Z" fill="#c9dfcd" stroke="#1f2a33" stroke-width="1.1" stroke-linejoin="round" stroke-linecap="round" /><ellipse cx="628.125" cy="630.625" rx="3.2" ry="2.6" fill="#f3ebe3" stroke="#1f2a33" stroke-width="0.9"  /><ellipse cx="594.53125" cy="606.09375" rx="8" ry="9.5" fill="#f3ebe3" stroke="#1f2a33" stroke-width="1"  /><path d="M578.1,619.4 Q 573.4,606.9 578.9,596.7 Q 585.2,588.1 595.3,591.2 Q 600.8,593.6 600.0,599.1 Q 593.0,599.1 590.9,605.3 Q 590.9,613.1 594.5,617.0 Q 587.5,624.1 578.1,619.4 Z" fill="#7d9ab5" stroke="#1f2a33" stroke-width="1.1" stroke-linejoin="round" stroke-linecap="round" /><path d="M587.5,676.4 L 605.5,669.1 Q 609.4,670.2 607.5,673.3 L 589.8,682.7 Z" fill="#a9c0d0" stroke="#1f2a33" stroke-width="1.1" stroke-linejoin="round" stroke-linecap="round" /><path d="M564.1,647.5 Q 563.3,642.0 568.8,643.6 L 585.2,651.4 Q 589.1,653.8 589.4,658.4 L 589.8,678.8 Q 589.1,683.4 584.4,681.1 L 568.8,672.5 Q 565.6,670.2 565.3,666.2 Z" fill="#8ba7bf" stroke="#1f2a33" stroke-width="1.2" stroke-linejoin="round" stroke-linecap="round" /><path d="M690.6,660.0 L 671.9,660.0 Q 666.4,661.6 668.0,669.4 L 671.1,685.0 L 681.2,686.6 L 679.7,672.5 L 696.9,672.5 Z" fill="#7f9cb6" stroke="#1f2a33" stroke-width="1.1" stroke-linejoin="round" stroke-linecap="round" /><path d="M668.8,682.7 Q 664.1,685.0 667.2,688.1 L 679.7,692.0 Q 683.6,689.7 681.2,685.8 Z" fill="#161b20" stroke="none" stroke-linejoin="round" stroke-linecap="round" /><path d="M682.8,625.6 Q 695.3,619.4 707.8,622.5 Q 711.7,627.2 711.7,638.1 L 712.5,660.0 Q 698.4,667.8 682.8,661.6 L 682.0,642.8 L 671.9,644.4 L 657.8,637.3 L 659.4,631.1 L 673.4,636.6 Z" fill="#7f9bb4" stroke="#1f2a33" stroke-width="1.1" stroke-linejoin="round" stroke-linecap="round" /><ellipse cx="655.0" cy="632.1875" rx="3.4" ry="3" fill="#f3ebe3" stroke="#1f2a33" stroke-width="0.9"  /><ellipse cx="690.625" cy="610.78125" rx="8" ry="9" fill="#f3ebe3" stroke="#1f2a33" stroke-width="1"  /><path d="M685.9,605.3 Q 682.8,597.5 690.6,594.7 Q 700.0,592.0 705.5,599.8 Q 708.6,608.4 703.9,614.7 Q 698.4,617.0 694.5,614.7 Q 696.1,606.9 691.4,604.5 Q 688.3,603.8 685.9,605.3 Z" fill="#6f8da8" stroke="#1f2a33" stroke-width="1.1" stroke-linejoin="round" stroke-linecap="round" /><path d="M678.1,673.3 L 698.4,680.3 L 700.0,685.0 L 680.5,678.8 Z" fill="#a9c0d0" stroke="#1f2a33" stroke-width="1.1" stroke-linejoin="round" stroke-linecap="round" /><path d="M698.4,660.0 Q 698.4,655.3 703.1,653.0 L 717.2,646.2 Q 721.6,645.2 721.9,650.6 L 721.9,667.8 Q 721.6,671.7 718.0,674.1 L 703.9,682.7 Q 699.7,684.2 699.2,679.5 Z" fill="#8ba7bf" stroke="#1f2a33" stroke-width="1.2" stroke-linejoin="round" stroke-linecap="round" /></g>
<g><g transform="rotate(-12 604.6875 510.625)"><path d="M625.7,511.3 L625.2,516.8 L621.6,518.0 L620.1,522.8 L622.1,527.4 L619.7,531.7 L616.1,529.9 L613.1,532.8 L613.0,538.2 L609.3,539.9 L607.0,535.6 L603.4,535.8 L601.2,540.2 L597.5,538.8 L597.2,533.4 L594.1,530.8 L590.6,532.8 L588.0,528.8 L589.7,524.0 L588.1,519.4 L584.4,518.4 L583.8,513.0 L587.0,510.3 L587.5,505.2 L584.7,501.5 L586.2,496.5 L590.0,496.8 L592.2,492.8 L591.3,487.5 L594.5,484.4 L597.5,487.6 L601.0,486.0 L602.2,480.8 L606.0,480.7 L607.4,485.7 L610.9,487.0 L613.8,483.6 L617.1,486.5 L616.4,491.8 L618.8,495.6 L622.6,495.0 L624.3,499.9 L621.7,503.8 L622.3,508.9 Z" fill="#86a1b3" stroke="#1f2a33" stroke-width="1.4" stroke-linejoin="round" transform="translate(3,-0.9)"/><path d="M625.7,511.3 L625.2,516.8 L621.6,518.0 L620.1,522.8 L622.1,527.4 L619.7,531.7 L616.1,529.9 L613.1,532.8 L613.0,538.2 L609.3,539.9 L607.0,535.6 L603.4,535.8 L601.2,540.2 L597.5,538.8 L597.2,533.4 L594.1,530.8 L590.6,532.8 L588.0,528.8 L589.7,524.0 L588.1,519.4 L584.4,518.4 L583.8,513.0 L587.0,510.3 L587.5,505.2 L584.7,501.5 L586.2,496.5 L590.0,496.8 L592.2,492.8 L591.3,487.5 L594.5,484.4 L597.5,487.6 L601.0,486.0 L602.2,480.8 L606.0,480.7 L607.4,485.7 L610.9,487.0 L613.8,483.6 L617.1,486.5 L616.4,491.8 L618.8,495.6 L622.6,495.0 L624.3,499.9 L621.7,503.8 L622.3,508.9 Z" fill="#c1d0d2" stroke="#1f2a33" stroke-width="1.4" stroke-linejoin="round"/><ellipse cx="604.6875" cy="510.625" rx="8.5" ry="13" fill="#7d9db3" stroke="#1f2a33" stroke-width="1.3"/><ellipse cx="606.9" cy="510.125" rx="6.8" ry="11.7" fill="#eef4f8" stroke="#1f2a33" stroke-width="1"/></g><g transform="rotate(-12 646.25 543.4375)"><path d="M663.2,544.0 L662.8,548.6 L659.8,549.6 L658.4,553.6 L659.7,557.4 L657.4,560.8 L654.5,559.2 L651.7,561.3 L651.1,565.5 L647.7,566.3 L646.1,562.8 L642.9,562.2 L640.6,565.1 L637.5,563.2 L637.7,558.9 L635.4,555.9 L632.2,556.5 L630.6,552.4 L632.6,549.2 L632.0,544.9 L629.3,542.9 L629.7,538.3 L632.7,537.2 L634.1,533.3 L632.8,529.5 L635.1,526.1 L638.0,527.7 L640.8,525.6 L641.4,521.4 L644.8,520.5 L646.4,524.1 L649.6,524.7 L651.9,521.7 L655.0,523.7 L654.8,528.0 L657.1,530.9 L660.3,530.4 L661.9,534.4 L659.9,537.7 L660.5,542.0 Z" fill="#86a1b3" stroke="#1f2a33" stroke-width="1.4" stroke-linejoin="round" transform="translate(3,-0.9)"/><path d="M663.2,544.0 L662.8,548.6 L659.8,549.6 L658.4,553.6 L659.7,557.4 L657.4,560.8 L654.5,559.2 L651.7,561.3 L651.1,565.5 L647.7,566.3 L646.1,562.8 L642.9,562.2 L640.6,565.1 L637.5,563.2 L637.7,558.9 L635.4,555.9 L632.2,556.5 L630.6,552.4 L632.6,549.2 L632.0,544.9 L629.3,542.9 L629.7,538.3 L632.7,537.2 L634.1,533.3 L632.8,529.5 L635.1,526.1 L638.0,527.7 L640.8,525.6 L641.4,521.4 L644.8,520.5 L646.4,524.1 L649.6,524.7 L651.9,521.7 L655.0,523.7 L654.8,528.0 L657.1,530.9 L660.3,530.4 L661.9,534.4 L659.9,537.7 L660.5,542.0 Z" fill="#c1d0d2" stroke="#1f2a33" stroke-width="1.4" stroke-linejoin="round"/><ellipse cx="646.25" cy="543.4375" rx="6.5" ry="10" fill="#7d9db3" stroke="#1f2a33" stroke-width="1.3"/><ellipse cx="648.5" cy="542.9375" rx="5.2" ry="9.0" fill="#eef4f8" stroke="#1f2a33" stroke-width="1"/></g><g transform="rotate(-14 648.75 481.5625)"><path d="M681.7,482.5 L681.2,490.0 L675.4,491.7 L673.6,498.4 L677.0,504.9 L673.7,511.0 L668.1,508.6 L664.1,513.0 L664.6,521.0 L659.6,524.1 L655.6,518.2 L650.5,519.3 L648.1,526.6 L642.6,525.8 L641.3,518.0 L636.4,515.4 L631.7,520.1 L627.2,515.6 L628.9,508.0 L625.7,502.5 L619.8,503.2 L617.6,496.4 L621.9,491.0 L621.1,483.9 L615.8,480.6 L616.3,473.1 L622.1,471.4 L623.9,464.8 L620.5,458.3 L623.8,452.2 L629.4,454.6 L633.4,450.1 L632.9,442.1 L637.9,439.1 L641.9,445.0 L647.0,443.8 L649.4,436.6 L654.9,437.4 L656.2,445.2 L661.1,447.7 L665.8,443.1 L670.3,447.5 L668.6,455.1 L671.8,460.6 L677.7,459.9 L679.9,466.8 L675.6,472.2 L676.4,479.2 Z" fill="#86a1b3" stroke="#1f2a33" stroke-width="1.4" stroke-linejoin="round" transform="translate(4,-1.2)"/><path d="M681.7,482.5 L681.2,490.0 L675.4,491.7 L673.6,498.4 L677.0,504.9 L673.7,511.0 L668.1,508.6 L664.1,513.0 L664.6,521.0 L659.6,524.1 L655.6,518.2 L650.5,519.3 L648.1,526.6 L642.6,525.8 L641.3,518.0 L636.4,515.4 L631.7,520.1 L627.2,515.6 L628.9,508.0 L625.7,502.5 L619.8,503.2 L617.6,496.4 L621.9,491.0 L621.1,483.9 L615.8,480.6 L616.3,473.1 L622.1,471.4 L623.9,464.8 L620.5,458.3 L623.8,452.2 L629.4,454.6 L633.4,450.1 L632.9,442.1 L637.9,439.1 L641.9,445.0 L647.0,443.8 L649.4,436.6 L654.9,437.4 L656.2,445.2 L661.1,447.7 L665.8,443.1 L670.3,447.5 L668.6,455.1 L671.8,460.6 L677.7,459.9 L679.9,466.8 L675.6,472.2 L676.4,479.2 Z" fill="#c1d0d2" stroke="#1f2a33" stroke-width="1.4" stroke-linejoin="round"/><ellipse cx="648.75" cy="481.5625" rx="15" ry="22" fill="#7d9db3" stroke="#1f2a33" stroke-width="1.3"/><ellipse cx="651.8" cy="481.0625" rx="12.0" ry="19.8" fill="#eef4f8" stroke="#1f2a33" stroke-width="1"/></g></g>
<g><polygon points="690.0,522.2 702.5,529.4 702.5,571.6 690.0,562.8" fill="#e9f0f4" stroke="#6f8593" stroke-width="1.1" stroke-linejoin="round" /><polygon points="702.5,529.4 713.4,523.1 713.4,563.8 702.5,571.6" fill="#d3e0e8" stroke="#6f8593" stroke-width="1.1" stroke-linejoin="round" /><polygon points="690.0,522.2 700.9,516.6 713.4,523.1 702.5,529.4" fill="#f4f8fa" stroke="#6f8593" stroke-width="1.1" stroke-linejoin="round" /><polygon points="713.4,534.7 729.1,542.5 729.1,584.7 713.4,575.3" fill="#8ea9be" stroke="#1f2a33" stroke-width="1.1" stroke-linejoin="round" /><polygon points="729.1,542.5 741.6,535.6 741.6,575.3 729.1,584.7" fill="#6f8da6" stroke="#1f2a33" stroke-width="1.1" stroke-linejoin="round" /><polygon points="713.4,534.7 726.6,526.9 741.6,535.6 729.1,542.5" fill="#9fb8ca" stroke="#1f2a33" stroke-width="1.1" stroke-linejoin="round" /><polygon points="742.5,525.3 757.2,533.1 757.2,600.3 742.5,592.5" fill="#d3e3d4" stroke="#1f2a33" stroke-width="1.1" stroke-linejoin="round" /><polygon points="757.2,533.1 771.2,524.4 771.2,592.5 757.2,600.3" fill="#b5cfc0" stroke="#1f2a33" stroke-width="1.1" stroke-linejoin="round" /><polygon points="742.5,525.3 757.2,515.9 771.2,524.4 757.2,533.1" fill="#dfeadb" stroke="#1f2a33" stroke-width="1.1" stroke-linejoin="round" /><polygon points="771.2,500.3 786.9,508.8 786.9,618.1 771.2,608.1" fill="#8ea9be" stroke="#1f2a33" stroke-width="1.1" stroke-linejoin="round" /><polygon points="786.9,508.8 801.9,499.4 801.9,609.7 786.9,618.1" fill="#6d8ba4" stroke="#1f2a33" stroke-width="1.1" stroke-linejoin="round" /><polygon points="771.2,500.3 786.2,490.9 801.9,499.4 786.9,508.8" fill="#a3bccd" stroke="#1f2a33" stroke-width="1.1" stroke-linejoin="round" /></g>
<path d="M690.6,504.1 L 711.2,481.6 L 736.2,508.1 L 793.8,451.2" fill="none" stroke="#1f2a33" stroke-width="6.4" stroke-linejoin="round" stroke-linecap="round" />
<path d="M690.6,504.1 L 711.2,481.6 L 736.2,508.1 L 793.8,451.2" fill="none" stroke="#c9dbe2" stroke-width="4" stroke-linejoin="round" stroke-linecap="round" />
<polygon points="782.2,447.2 801.9,441.6 809.4,463.8 804.1,467.5 796.9,451.2 786.9,453.4" fill="#c9dbe2" stroke="#1f2a33" stroke-width="1.2" stroke-linejoin="round" />
<g><ellipse cx="924.6875" cy="427.5" rx="28" ry="12" fill="#cddce2" stroke="none"  /><polygon points="1002.2,240.0 1067.8,275.2 1067.8,310.3 1002.2,277.5" fill="#dde7ee" stroke="none" stroke-linejoin="round" opacity="0.8"/><path d="M990.5,254.5 L 992.8,252.9 L 1037.3,276.3 L 1037.3,293.4 L 1041.6,293.4 L 1035.5,298.6 L 1035.0,295.1 L 1018.6,286.9 L 1015.1,301.4 L 1010.4,290.4 L 990.5,281.0 Z" fill="#d5e2e8" stroke="#1f2a33" stroke-width="1.2" stroke-linejoin="round" stroke-linecap="round" /><path d="M996.3,265.8 L 1003.4,269.3 M 998.7,272.8 L 1023.3,285.0" fill="none" stroke="#1f2a33" stroke-width="1.3" stroke-linejoin="round" stroke-linecap="round" /><path d="M966.9,354.1 L 966.9,333.8 L 982.5,340.6" fill="none" stroke="#1f2a33" stroke-width="1.1" stroke-linejoin="round" stroke-linecap="round" /><path d="M1012.7,300.9 L 1012.7,310.3" fill="none" stroke="#1f2a33" stroke-width="1.1" stroke-linejoin="round" stroke-linecap="round" /><polygon points="951.2,350.9 974.7,363.4 974.7,388.4 951.2,375.9" fill="#d3e1e8" stroke="#1f2a33" stroke-width="1.1" stroke-linejoin="round" /><polygon points="974.7,363.4 983.1,358.8 983.1,382.5 974.7,388.4" fill="#8fa9bc" stroke="#1f2a33" stroke-width="1.1" stroke-linejoin="round" /><polygon points="951.2,350.9 959.7,346.2 983.1,358.8 974.7,363.4" fill="#e6eff3" stroke="#1f2a33" stroke-width="1.1" stroke-linejoin="round" /><polygon points="990.5,304.4 1031.5,325.5 1031.5,354.8 990.5,333.7" fill="#d3e1e8" stroke="#1f2a33" stroke-width="1.1" stroke-linejoin="round" /><polygon points="1031.5,325.5 1039.7,321.6 1039.7,349.9 1031.5,354.8" fill="#8fa9bc" stroke="#1f2a33" stroke-width="1.1" stroke-linejoin="round" /><polygon points="990.5,304.4 998.7,300.5 1039.7,321.6 1031.5,325.5" fill="#e6eff3" stroke="#1f2a33" stroke-width="1.1" stroke-linejoin="round" /><path d="M1010.4,343.1 L 1010.4,380.6" fill="none" stroke="#1f2a33" stroke-width="1.1" stroke-linejoin="round" stroke-linecap="round" /><polygon points="994.0,375.9 1017.4,387.6 1017.4,413.0 994.0,401.2" fill="#d3e1e8" stroke="#1f2a33" stroke-width="1.1" stroke-linejoin="round" /><polygon points="1017.4,387.6 1025.6,383.4 1025.6,407.8 1017.4,413.0" fill="#8fa9bc" stroke="#1f2a33" stroke-width="1.1" stroke-linejoin="round" /><polygon points="994.0,375.9 1002.2,371.7 1025.6,383.4 1017.4,387.6" fill="#e6eff3" stroke="#1f2a33" stroke-width="1.1" stroke-linejoin="round" /><polygon points="1035.0,400.5 1058.4,413.4 1058.4,437.3 1035.0,424.4" fill="#d3e1e8" stroke="#1f2a33" stroke-width="1.1" stroke-linejoin="round" /><polygon points="1058.4,413.4 1066.6,409.2 1066.6,432.2 1058.4,437.3" fill="#8fa9bc" stroke="#1f2a33" stroke-width="1.1" stroke-linejoin="round" /><polygon points="1035.0,400.5 1043.2,396.3 1066.6,409.2 1058.4,413.4" fill="#e6eff3" stroke="#1f2a33" stroke-width="1.1" stroke-linejoin="round" /><path d="M1050.2,404.0 L 1050.2,390.0" fill="none" stroke="#1f2a33" stroke-width="1.1" stroke-linejoin="round" stroke-linecap="round" /><path d="M1064.3,305.6 L 1113.5,332.6 L 1113.5,368.9 L 1106.5,364.7 L 1100.1,371.7 L 1097.1,360.0 L 1064.3,343.1 Z" fill="#dbe7ea" stroke="#1f2a33" stroke-width="1.2" stroke-linejoin="round" stroke-linecap="round" /><polygon points="1072.5,319.7 1084.2,325.5 1084.2,343.1 1072.5,337.3" fill="#a9c0cb" stroke="#1f2a33" stroke-width="1" stroke-linejoin="round" /><path d="M1087.7,344.3 Q 1088.9,334.9 1094.8,336.1 Q 1091.2,330.2 1097.1,330.2 Q 1101.8,332.6 1100.1,338.4 Q 1106.5,341.9 1105.3,353.7 Z" fill="#a9c0cb" stroke="#1f2a33" stroke-width="1" stroke-linejoin="round" stroke-linecap="round" /><g transform="rotate(-18 1070.1 388.1)"><ellipse cx="1070.1476447152565" cy="388.11342863838763" rx="19.5" ry="25" fill="#8fa6b7" stroke="#1f2a33" stroke-width="1.2"  /><ellipse cx="1071.6476447152565" cy="388.11342863838763" rx="14" ry="19.5" fill="#e3edf0" stroke="#1f2a33" stroke-width="1.1"  /></g><polygon points="1081.9,412.3 1088.9,406.4 1106.5,425.1 1098.3,431.0" fill="#8da4b5" stroke="#1f2a33" stroke-width="1.1" stroke-linejoin="round" /><polygon points="1080.7,409.2 1087.7,404.0 1091.2,407.6 1083.7,413.4" fill="#566b7a" stroke="#1f2a33" stroke-width="1" stroke-linejoin="round" /></g>
<g><path d="M905.0,360.3 L 903.8,424.4 L 915.3,425.9 L 920.6,377.5 L 927.8,421.2 L 939.4,419.7 L 933.1,357.2 Z" fill="#7f9cb6" stroke="#1f2a33" stroke-width="1.1" stroke-linejoin="round" stroke-linecap="round" /><path d="M903.8,422.8 Q 899.7,427.5 905.9,432.2 L 915.3,437.5 Q 921.6,435.3 916.2,427.5 Z" fill="#161b20" stroke="none" stroke-linejoin="round" stroke-linecap="round" /><path d="M927.8,418.8 Q 924.7,424.4 932.5,426.9 L 943.4,430.6 Q 948.8,426.9 942.5,422.8 L 938.8,418.1 Z" fill="#161b20" stroke="none" stroke-linejoin="round" stroke-linecap="round" /><path d="M910.6,310.3 Q 899.7,315.0 896.6,325.9 L 891.2,340.0 L 903.8,360.3 L 905.9,362.5 L 934.1,359.4 L 935.0,330.6 L 933.1,313.4 Q 923.1,307.2 910.6,310.3 Z" fill="#fbfcfd" stroke="#1f2a33" stroke-width="1.1" stroke-linejoin="round" stroke-linecap="round" /><path d="M903.8,333.8 L 899.7,343.1 L 906.9,356.2" fill="none" stroke="#1f2a33" stroke-width="1" stroke-linejoin="round" stroke-linecap="round" /><path d="M927.8,309.4 L 960.6,301.9 L 964.4,307.2 L 934.1,321.9 Z" fill="#fbfcfd" stroke="#1f2a33" stroke-width="1.1" stroke-linejoin="round" stroke-linecap="round" /><path d="M960.6,301.9 L 972.2,297.8 L 966.9,304.1 L 964.4,308.1 Z" fill="#f3ebe3" stroke="#1f2a33" stroke-width="1" stroke-linejoin="round" stroke-linecap="round" /><polygon points="920.6,314.4 924.7,313.8 929.4,347.8 926.2,353.1 922.5,348.8" fill="#7c9ab6" stroke="#1f2a33" stroke-width="1" stroke-linejoin="round" /><path d="M912.2,311.2 L 920.6,318.1 L 927.8,310.3" fill="none" stroke="#1f2a33" stroke-width="1" stroke-linejoin="round" stroke-linecap="round" /><ellipse cx="920.625" cy="296.875" rx="8.6" ry="10.5" fill="#f3ebe3" stroke="#1f2a33" stroke-width="1.1"  /><path d="M909.1,297.8 Q 905.0,286.9 913.8,283.8 Q 924.7,280.0 930.0,286.9 L 926.2,293.1 Q 920.0,290.0 914.7,293.1 L 913.8,300.9 Z" fill="#6a8aaa" stroke="#1f2a33" stroke-width="1.1" stroke-linejoin="round" stroke-linecap="round" /></g>
<g><ellipse cx="1122" cy="499" rx="20" ry="8" fill="#cddce2" stroke="none"  /><path d="M1133.4,409.9 Q 1141.6,414.6 1140.5,427.5 L 1139.3,450.9 Q 1136.9,458.0 1133.4,454.4 Z" fill="#9db3c0" stroke="#1f2a33" stroke-width="1" stroke-linejoin="round" stroke-linecap="round" /><path d="M1113.8,452.5 L 1113.8,497.8 L 1122.5,498.8 L 1124.7,468.1 L 1127.8,491.6 L 1135.0,490.0 L 1135.6,450.0 Z" fill="#7f9cb6" stroke="#1f2a33" stroke-width="1.1" stroke-linejoin="round" stroke-linecap="round" /><path d="M1112.2,496.2 Q 1107.5,500.9 1113.8,504.1 L 1121.6,505.0 Q 1124.7,500.9 1122.5,496.9 Z" fill="#161b20" stroke="none" stroke-linejoin="round" stroke-linecap="round" /><path d="M1126.2,490.0 Q 1123.8,494.7 1129.4,496.9 L 1135.0,496.9 Q 1136.9,492.5 1134.4,489.4 Z" fill="#161b20" stroke="none" stroke-linejoin="round" stroke-linecap="round" /><path d="M1115.8,418.1 Q 1128.7,412.3 1134.6,419.3 L 1135.3,450.9 Q 1124.0,456.8 1112.8,452.1 L 1112.3,434.5 L 1104.1,439.2 L 1092.4,431.0 L 1094.8,425.1 L 1105.3,429.8 Z" fill="#fbfcfd" stroke="#1f2a33" stroke-width="1.1" stroke-linejoin="round" stroke-linecap="round" /><ellipse cx="1091.7084602765408" cy="426.31356925240215" rx="4" ry="3.5" fill="#f3ebe3" stroke="#1f2a33" stroke-width="1"  /><ellipse cx="1120.5343332552145" cy="405.22146707288493" rx="9.5" ry="11" fill="#f3ebe3" stroke="#1f2a33" stroke-width="1.1"  /><path d="M1113.5,404.0 Q 1110.0,394.7 1121.7,392.8 Q 1133.4,393.5 1133.4,406.4 Q 1132.3,414.6 1127.6,415.8 Q 1128.7,404.0 1121.7,401.7 Z" fill="#a3b8c3" stroke="#1f2a33" stroke-width="1.1" stroke-linejoin="round" stroke-linecap="round" /></g>
<g><path d="M1141.7,244.3 Q 1145.1,259.6 1153.5,272.2" fill="none" stroke="#1f2a33" stroke-width="1.1" stroke-linejoin="round" stroke-linecap="round" /><path d="M1140.0,302.7 Q 1148.5,301.9 1156.9,304.7" fill="none" stroke="#1f2a33" stroke-width="1.1" stroke-linejoin="round" stroke-linecap="round" /><path d="M1166.2,306.9 Q 1175.5,313.7 1186.5,317.9" fill="none" stroke="#1f2a33" stroke-width="1.1" stroke-linejoin="round" stroke-linecap="round" /><path d="M1227.2,274.8 Q 1228.0,288.3 1233.9,295.9" fill="none" stroke="#1f2a33" stroke-width="1.1" stroke-linejoin="round" stroke-linecap="round" /><path d="M1246.6,297.6 Q 1239.9,308.6 1236.5,320.5" fill="none" stroke="#1f2a33" stroke-width="1.1" stroke-linejoin="round" stroke-linecap="round" /><path d="M1239.9,331.5 Q 1251.7,329.0 1261.9,320.5" fill="none" stroke="#1f2a33" stroke-width="1.1" stroke-linejoin="round" stroke-linecap="round" /><path d="M1261.9,320.5 Q 1268.6,315.4 1275.4,316.3" fill="none" stroke="#1f2a33" stroke-width="1.1" stroke-linejoin="round" stroke-linecap="round" /><path d="M1275.4,316.3 Q 1283.9,327.3 1293.2,335.7" fill="none" stroke="#1f2a33" stroke-width="1.1" stroke-linejoin="round" stroke-linecap="round" /><path d="M1358.3,271.4 Q 1361.7,276.5 1365.1,278.2" fill="none" stroke="#1f2a33" stroke-width="1.1" stroke-linejoin="round" stroke-linecap="round" /><path d="M1371.9,274.8 Q 1382.0,283.2 1385.4,296.8" fill="none" stroke="#1f2a33" stroke-width="1.1" stroke-linejoin="round" stroke-linecap="round" /><path d="M1367.7,295.1 Q 1366.8,310.3 1360.0,320.5" fill="none" stroke="#1f2a33" stroke-width="1.1" stroke-linejoin="round" stroke-linecap="round" /><path d="M1360.0,320.5 Q 1349.9,327.3 1341.4,335.7" fill="none" stroke="#1f2a33" stroke-width="1.1" stroke-linejoin="round" stroke-linecap="round" /><path d="M1392.2,268.9 Q 1397.3,268.4 1402.4,270.6" fill="none" stroke="#1f2a33" stroke-width="1.1" stroke-linejoin="round" stroke-linecap="round" /><path d="M1367.7,272.2 L 1366.8,237.5" fill="none" stroke="#1f2a33" stroke-width="1.1" stroke-linejoin="round" stroke-linecap="round" /><path d="M1281.3,282.4 L1282.5,404" fill="none" stroke="#1f2a33" stroke-width="1.1" stroke-linejoin="round" stroke-linecap="round" /></g>
<g><ellipse cx="1282.5" cy="220" rx="23" ry="11" fill="#a9c5d6" stroke="none"  /><path d="M1270.0,160.0 L 1270.0,212.5 L 1280.0,215.0 L 1283.8,180.0 L 1288.8,220.0 L 1298.0,221.2 L 1297.0,160.0 Z" fill="#7f9cb6" stroke="#1f2a33" stroke-width="1.1" stroke-linejoin="round" stroke-linecap="round" /><path d="M1268.8,211.2 Q 1261.2,215.0 1265.0,219.5 L 1276.2,219.5 Q 1282.5,216.2 1280.0,212.5 Z" fill="#161b20" stroke="none" stroke-linejoin="round" stroke-linecap="round" /><path d="M1287.5,219.5 Q 1282.0,225.0 1286.2,230.0 L 1295.0,226.2 Q 1300.0,222.5 1298.0,219.5 Z" fill="#161b20" stroke="none" stroke-linejoin="round" stroke-linecap="round" /><path d="M1273.8,122.5 Q 1267.5,125.0 1268.8,135.0 L 1269.5,162.5 Q 1282.5,167.5 1293.8,163.8 L 1290.0,172.5 Q 1292.5,177.5 1297.0,172.5 L 1304.5,150.0 Q 1303.8,130.0 1296.2,123.8 Q 1285.0,118.8 1273.8,122.5 Z" fill="#fbfcfd" stroke="#1f2a33" stroke-width="1.1" stroke-linejoin="round" stroke-linecap="round" /><path d="M1272.5,122.0 L 1243.8,126.2 L 1242.5,133.8 L 1270.0,136.2 Z" fill="#fbfcfd" stroke="#1f2a33" stroke-width="1.1" stroke-linejoin="round" stroke-linecap="round" /><path d="M1243.8,126.2 L 1233.8,123.8 L 1232.0,128.0 L 1237.5,132.5 L 1242.5,133.8 Z" fill="#f3ebe3" stroke="#1f2a33" stroke-width="1" stroke-linejoin="round" stroke-linecap="round" /><polygon points="1277.5,126.2 1281.2,126.2 1282.0,150.0 1277.5,153.8 1274.5,150.0" fill="#7c9ab6" stroke="#1f2a33" stroke-width="1" stroke-linejoin="round" /><ellipse cx="1283.0" cy="109.5" rx="9.3" ry="11" fill="#f3ebe3" stroke="#1f2a33" stroke-width="1.1"  /><path d="M1273.8,107.5 Q 1270.0,98.8 1280.0,96.2 Q 1291.2,94.5 1292.5,105.0 L 1290.5,117.5 Q 1288.0,110.0 1285.0,106.2 Q 1280.0,104.5 1273.8,107.5 Z" fill="#5f7fa6" stroke="#1f2a33" stroke-width="1.1" stroke-linejoin="round" stroke-linecap="round" /></g>
<g><path d="M1213.8,56.2 Q 1232.5,57.0 1233.0,75.0 Q 1232.0,90.5 1213.8,90.5 Q 1207.5,90.0 1204.5,87.5 L 1199.5,91.2 L 1200.5,83.8 Q 1193.8,75.0 1195.0,70.0 Q 1197.5,56.2 1213.8,56.2 Z" fill="#b9d4c6" stroke="#1f2a33" stroke-width="1.2" stroke-linejoin="round" stroke-linecap="round" /><path d="M1207.5,68.8 L 1218.0,77.5 M 1215.5,67.5 L 1210.0,78.8" fill="none" stroke="#1f2a33" stroke-width="1.3" stroke-linejoin="round" stroke-linecap="round" /><path d="M1199.5,91.2 Q 1197.5,98.8 1207.5,99.5 Q 1216.2,98.0 1218.0,91.2" fill="#f2efd6" stroke="#1f2a33" stroke-width="1.1" stroke-linejoin="round" stroke-linecap="round" /><path d="M1189.5,85.0 L 1196.2,87.5 M 1190.0,94.5 L 1197.0,94.5 M 1195.0,104.5 L 1199.5,100.0 M 1205.5,110.0 L 1206.2,103.8 M 1213.8,108.8 L 1211.2,103.0 M 1220.5,105.0 L 1216.2,100.0" fill="none" stroke="#1f2a33" stroke-width="1.3" stroke-linejoin="round" stroke-linecap="round" /><path d="M1232.5,21.2 Q 1242.5,13.8 1253.8,18.0 Q 1265.0,15.0 1272.5,27.5 Q 1285.0,37.5 1282.0,50.0 Q 1283.8,65.0 1270.0,68.8 L 1272.5,81.2 L 1258.8,70.0 Q 1245.0,71.2 1240.0,58.8 Q 1226.2,50.0 1228.8,37.5 Q 1224.5,27.5 1232.5,21.2 Z" fill="#7f9db5" stroke="#1f2a33" stroke-width="1.2" stroke-linejoin="round" stroke-linecap="round" transform="translate(3,1.5)"/><path d="M1232.5,21.2 Q 1242.5,13.8 1253.8,18.0 Q 1265.0,15.0 1270.0,27.5 Q 1281.2,37.5 1277.5,50.0 Q 1279.5,65.0 1266.2,67.5 L 1271.2,81.2 L 1256.2,68.8 Q 1245.0,71.2 1240.0,58.8 Q 1226.2,50.0 1228.8,37.5 Q 1224.5,27.5 1232.5,21.2 Z" fill="#fafcfd" stroke="#1f2a33" stroke-width="1.2" stroke-linejoin="round" stroke-linecap="round" /><path d="M1243.8,53.8 Q 1236.2,40.0 1243.8,32.5 Q 1252.0,26.2 1260.0,33.8 Q 1266.2,42.5 1258.0,53.8 L 1257.5,61.2 L 1245.0,61.2 Z" fill="#eef0d6" stroke="#1f2a33" stroke-width="1.2" stroke-linejoin="round" stroke-linecap="round" /><path d="M1245.0,61.2 L 1246.2,67.5 L 1256.2,67.5 L 1257.5,61.2 M 1245.8,64.5 L 1257.0,64.5" fill="#dfe7ea" stroke="#1f2a33" stroke-width="1.1" stroke-linejoin="round" stroke-linecap="round" /><path d="M1248.0,53.8 L 1247.5,43.8 L 1251.2,47.5 L 1254.5,43.8 L 1254.5,53.8" fill="none" stroke="#1f2a33" stroke-width="1.1" stroke-linejoin="round" stroke-linecap="round" /><path d="M1346.2,22.5 Q 1362.5,23.8 1361.2,41.2 Q 1360.0,53.8 1352.5,58.8 L 1347.0,70.0 L 1343.8,58.0 Z" fill="#7596b2" stroke="#1f2a33" stroke-width="1.2" stroke-linejoin="round" stroke-linecap="round" /><path d="M1342.5,23.0 Q 1357.5,23.8 1356.2,40.0 Q 1355.0,53.8 1345.5,58.0 L 1347.0,70.0 L 1340.5,57.0 Q 1328.8,48.8 1330.5,36.2 Q 1332.5,23.8 1342.5,23.0 Z" fill="#f4f8fa" stroke="#1f2a33" stroke-width="1.2" stroke-linejoin="round" stroke-linecap="round" /><ellipse cx="1343.75" cy="39.5" rx="8" ry="9.5" fill="#e3edf1" stroke="#1f2a33" stroke-width="1.1"  /><ellipse cx="1344.25" cy="39.5" rx="3.2" ry="4" fill="#b9d4c6" stroke="#1f2a33" stroke-width="1"  /><path d="M1377.5,43.0 L 1412.5,61.2 Q 1417.5,65.0 1417.0,71.2 L 1416.2,93.8 L 1410.0,98.0 L 1408.0,108.0 L 1402.5,98.8 Z" fill="#7a9ab3" stroke="#1f2a33" stroke-width="1.2" stroke-linejoin="round" stroke-linecap="round" /><path d="M1371.2,50.0 Q 1371.2,43.0 1377.5,45.0 L 1407.5,62.0 Q 1410.8,64.5 1410.8,70.0 L 1410.8,96.2 L 1406.2,95.0 L 1407.5,107.5 L 1397.0,90.5 L 1375.0,78.0 Q 1371.2,75.5 1371.2,71.2 Z" fill="#d5e2e6" stroke="#1f2a33" stroke-width="1.2" stroke-linejoin="round" stroke-linecap="round" /><ellipse cx="1381.25" cy="66.25" rx="2.4" ry="2.6" fill="#f4f8fa" stroke="#1f2a33" stroke-width="1.2"  /><ellipse cx="1391.0" cy="72.0" rx="2.4" ry="2.6" fill="#f4f8fa" stroke="#1f2a33" stroke-width="1.2"  /><ellipse cx="1400.0" cy="77.5" rx="2.4" ry="2.6" fill="#f4f8fa" stroke="#1f2a33" stroke-width="1.2"  /></g>
<g><path d="M1316.8,81.9 Q1318.8,80.3 1321.1,81.9 Q1323.4,83.4 1326.2,85.0 Q1328.9,86.6 1331.2,88.1 Q1333.6,89.7 1336.3,91.6 Q1339.1,93.6 1341.4,94.4 Q1343.8,95.2 1345.3,96.7 Q1346.9,98.3 1349.2,98.7 Q1351.6,99.1 1352.7,101.4 Q1353.9,103.8 1353.1,105.3 Q1352.3,106.9 1353.5,110.0 Q1354.7,113.1 1355.9,115.5 Q1357.0,117.8 1354.3,118.6 Q1351.6,119.4 1349.2,120.9 Q1346.9,122.5 1345.7,124.5 Q1344.5,126.4 1344.9,128.4 Q1345.3,130.3 1343.4,129.5 Q1341.4,128.8 1339.8,126.8 Q1338.3,124.8 1336.7,122.5 Q1335.2,120.2 1333.6,116.6 Q1332.0,113.1 1330.9,109.2 Q1329.7,105.3 1328.5,101.4 Q1327.3,97.5 1325.8,94.8 Q1324.2,92.0 1321.9,91.2 Q1319.5,90.5 1316.8,90.5 Q1314.1,90.5 1314.8,88.5 Q1315.6,86.6 1315.2,85.0 Q1314.8,83.4 1316.8,81.9 Z" fill="#a6c9b5" stroke="#1f3a3a" stroke-width="1.3" stroke-linejoin="round" stroke-linecap="round" /><path d="M1355.5,91.2 Q1358.6,90.5 1362.1,91.2 Q1365.6,92.0 1368.4,94.0 Q1371.1,95.9 1372.3,98.7 Q1373.4,101.4 1372.3,103.8 Q1371.1,106.1 1368.8,107.7 Q1366.4,109.2 1364.1,110.4 Q1361.7,111.6 1360.5,109.2 Q1359.4,106.9 1358.6,103.8 Q1357.8,100.6 1356.6,98.3 Q1355.5,95.9 1353.9,94.0 Q1352.3,92.0 1355.5,91.2 Z" fill="#a6c9b5" stroke="#1f3a3a" stroke-width="1.3" stroke-linejoin="round" stroke-linecap="round" /><path d="M1346.9,135.0 Q1349.2,133.4 1351.6,135.4 Q1353.9,137.3 1356.2,140.9 Q1358.6,144.4 1360.9,147.5 Q1363.3,150.6 1361.7,154.1 Q1360.2,157.7 1357.8,160.4 Q1355.5,163.1 1353.9,166.2 Q1352.3,169.4 1351.6,171.3 Q1350.8,173.3 1349.6,170.5 Q1348.4,167.8 1348.0,163.9 Q1347.7,160.0 1347.3,156.1 Q1346.9,152.2 1345.7,148.7 Q1344.5,145.2 1344.5,140.9 Q1344.5,136.6 1346.9,135.0 Z" fill="#a6c9b5" stroke="#1f3a3a" stroke-width="1.3" stroke-linejoin="round" stroke-linecap="round" /><path d="M1374.6,135.4 Q1376.6,132.7 1378.9,133.0 Q1381.2,133.4 1383.6,135.8 Q1385.9,138.1 1388.3,141.2 Q1390.6,144.4 1392.2,147.5 Q1393.8,150.6 1396.1,153.8 Q1398.4,156.9 1397.3,160.0 Q1396.1,163.1 1394.5,166.2 Q1393.0,169.4 1391.8,172.9 Q1390.6,176.4 1388.7,177.2 Q1386.7,178.0 1385.5,175.2 Q1384.4,172.5 1383.6,168.6 Q1382.8,164.7 1381.2,160.8 Q1379.7,156.9 1377.7,153.8 Q1375.8,150.6 1374.2,147.9 Q1372.7,145.2 1372.7,141.6 Q1372.7,138.1 1374.6,135.4 Z" fill="#a6c9b5" stroke="#1f3a3a" stroke-width="1.3" stroke-linejoin="round" stroke-linecap="round" /><path d="M1378.9,125.6 Q1381.2,122.5 1384.0,120.9 Q1386.7,119.4 1389.5,120.2 Q1392.2,120.9 1394.5,122.5 Q1396.9,124.1 1400.0,125.2 Q1403.1,126.4 1406.2,126.4 Q1409.4,126.4 1412.5,126.8 Q1415.6,127.2 1418.8,129.9 Q1421.9,132.7 1425.0,134.6 Q1428.1,136.6 1431.2,138.9 Q1434.4,141.2 1437.9,144.0 Q1441.4,146.7 1444.5,149.1 Q1447.7,151.4 1449.2,152.6 Q1450.8,153.8 1448.8,154.5 Q1446.9,155.3 1444.5,154.9 Q1442.2,154.5 1442.6,156.5 Q1443.0,158.4 1441.0,158.0 Q1439.1,157.7 1437.5,155.7 Q1435.9,153.8 1434.8,155.7 Q1433.6,157.7 1434.0,161.6 Q1434.4,165.5 1432.4,165.9 Q1430.5,166.2 1429.3,163.9 Q1428.1,161.6 1426.2,163.9 Q1424.2,166.2 1422.7,167.8 Q1421.1,169.4 1422.3,172.5 Q1423.4,175.6 1424.2,178.0 Q1425.0,180.3 1422.7,177.6 Q1420.3,174.8 1418.8,171.3 Q1417.2,167.8 1416.4,167.8 Q1415.6,167.8 1414.1,165.5 Q1412.5,163.1 1410.9,164.7 Q1409.4,166.2 1407.0,163.1 Q1404.7,160.0 1402.3,156.9 Q1400.0,153.8 1397.7,150.6 Q1395.3,147.5 1393.8,144.4 Q1392.2,141.2 1389.8,138.9 Q1387.5,136.6 1384.4,135.0 Q1381.2,133.4 1379.3,133.0 Q1377.3,132.7 1377.0,130.7 Q1376.6,128.8 1378.9,125.6 Z" fill="#a6c9b5" stroke="#1f3a3a" stroke-width="1.3" stroke-linejoin="round" stroke-linecap="round" /><path d="M1427.0,187.7 Q1429.7,185.8 1432.4,186.2 Q1435.2,186.6 1437.5,189.3 Q1439.8,192.0 1440.6,195.5 Q1441.4,199.1 1440.2,202.2 Q1439.1,205.3 1436.7,203.4 Q1434.4,201.4 1431.6,199.5 Q1428.9,197.5 1427.0,195.9 Q1425.0,194.4 1424.6,192.0 Q1424.2,189.7 1427.0,187.7 Z" fill="#a6c9b5" stroke="#1f3a3a" stroke-width="1.3" stroke-linejoin="round" stroke-linecap="round" /><polygon points="1343.4,100.9 1349.7,98.3 1352.3,103.8 1346.1,106.9" fill="#f0f5f3" stroke="#1f3a3a" stroke-width="1" stroke-linejoin="round" /><ellipse cx="1340.9375" cy="124.375" rx="3" ry="2" fill="#e6dede" stroke="#1f3a3a" stroke-width="0.8"  /><ellipse cx="1372.65625" cy="113.125" rx="2.2" ry="1.8" fill="#1a2428" stroke="none"  /><ellipse cx="1386.71875" cy="109.21875" rx="2.2" ry="1.8" fill="#1a2428" stroke="none"  /><ellipse cx="1397.65625" cy="174.84375" rx="2.2" ry="1.8" fill="#1a2428" stroke="none"  /><ellipse cx="1453.90625" cy="215.46875" rx="2.2" ry="1.8" fill="#1a2428" stroke="none"  /></g>
<text x="843.5" y="228.5" font-size="21.8" textLength="284.0" lengthAdjust="spacingAndGlyphs" fill="#14181c" stroke="#14181c" stroke-width="0.95" stroke-linejoin="round">LEADERSHIP /EXPERT STATUS</text>
<text x="610.4" y="401.0" font-size="21.2" textLength="288.5" lengthAdjust="spacingAndGlyphs" fill="#14181c" stroke="#14181c" stroke-width="0.95" stroke-linejoin="round">SENIOR ROLE/SPECIALIZATION</text>
<text x="495.8" y="439.7" font-size="21.3" textLength="121.7" lengthAdjust="spacingAndGlyphs" fill="#14181c" stroke="#14181c" stroke-width="0.95" stroke-linejoin="round">MID-CAREER</text>
<text x="514.4" y="466.9" font-size="21.3" textLength="87.4" lengthAdjust="spacingAndGlyphs" fill="#14181c" stroke="#14181c" stroke-width="0.95" stroke-linejoin="round">GROWTH</text>
<text x="194.6" y="653.2" font-size="22.2" textLength="127.1" lengthAdjust="spacingAndGlyphs" fill="#14181c" stroke="#14181c" stroke-width="1.0" stroke-linejoin="round">ENTRY-LEVEL</text>
<text x="219.0" y="680.5" font-size="22.4" textLength="90.7" lengthAdjust="spacingAndGlyphs" fill="#14181c" stroke="#14181c" stroke-width="1.0" stroke-linejoin="round">POSITION</text>
<text x="0" y="0" font-size="22.3" textLength="176.0" lengthAdjust="spacingAndGlyphs" fill="#14181c" stroke="#14181c" stroke-width="0.95" stroke-linejoin="round" transform="translate(88.0,900.0) rotate(28.9)">EDUCATION PHASE</text>
<text x="0" y="0" font-size="22.3" textLength="181.0" lengthAdjust="spacingAndGlyphs" fill="#14181c" stroke="#14181c" stroke-width="0.95" stroke-linejoin="round" transform="translate(287.4,1005.8) rotate(-29.7)">EDUCATION PHASE</text>
<g><rect x="1237.3" y="926.4" width="284.7" height="81.4" rx="9" ry="9" fill="#ffffff" stroke="#9ea3a8" stroke-width="2.1"/><text x="1261.2" y="960" font-size="16.3" font-weight="bold" fill="#3a3a3a" textLength="185.6" lengthAdjust="spacingAndGlyphs">Your Guide to Real Estate</text><text x="1265.7" y="982.8" font-size="16.6" fill="#777777" textLength="181.1" lengthAdjust="spacingAndGlyphs">yourguidetorealestate.net</text><rect x="1453.6" y="941.4" width="51.8" height="50.8" rx="5" fill="#fdfdfd"/><path d="M1472.5,961 L1479.5,954.6 L1486.5,961 L1486.5,965.4 L1472.5,965.4 Z" fill="#2f4f6a"/><path d="M1478,958.8 L1483.2,954 L1485.5,956 L1485.5,954 L1487,954 L1487,957.4 L1488.6,958.8 L1487.6,959.6 L1487.6,965.2 L1480.2,965.2 L1480.2,960 L1478.8,959.6 Z" fill="#e8833a"/><rect x="1475.2" y="961" width="2.6" height="2.6" fill="#cfe0ea"/><rect x="1482.6" y="960.6" width="2.6" height="2.6" fill="#fbe3cf"/><text x="1454.6" y="974.6" font-size="11.5" font-weight="bold" font-family="Liberation Serif, serif" fill="#1f4e5f" textLength="48.8" lengthAdjust="spacingAndGlyphs" style="font-family:'Liberation Serif',serif">YourGuide</text><path d="M1456,976.4 L1463.5,970.5" stroke="#1f4e5f" stroke-width="0.9" fill="none"/><rect x="1464" y="975.6" width="35.5" height="2" fill="#e8833a" opacity="0.85"/></g>
</svg>
</body></html>
